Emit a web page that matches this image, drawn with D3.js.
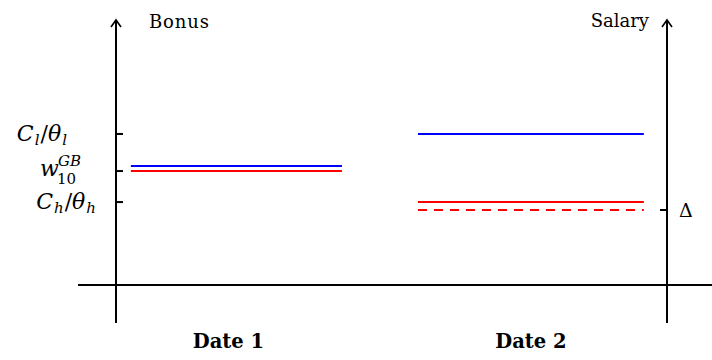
<!DOCTYPE html>
<html><head><meta charset="utf-8">
<script src="https://cdn.jsdelivr.net/npm/d3@7"></script>
<style>body{margin:0;background:#fff}svg{display:block}</style>
</head><body>
<script>
// Data (value units: y in chart units above baseline, x in 0-100 time units)
const dates = ["Date 1", "Date 2"];
const dateCenters = [20.4, 75.3];
const leftTicks = [
  {name: "Cl", value: 5.70},
  {name: "w", value: 4.30},
  {name: "Ch", value: 3.13}
];
const rightTicks = [{name: "Δ", value: 2.83}];
const segStart = [2.7, 54.8];
const segEnd = [41.0, 95.8];
const seriesNames = ["blue", "red", "redDashed"];
const blueValues = [4.49, 5.70];
const redValues = [4.30, 3.13];
const redDashedValues = [null, 2.83];
const axisTitles = ["Bonus", "Salary"];

const W = 712, H = 360;
const svg = d3.select("body").append("svg").attr("width", W).attr("height", H);
const x = d3.scaleLinear().domain([0, 100]).range([116, 667]);
const y = d3.scaleLinear().domain([0, 10]).range([285, 20]);

const serif = "'DejaVu Serif', serif";

// axes
const g = svg.append("g").attr("stroke", "#000").attr("stroke-width", 2).attr("fill", "none");
g.append("line").attr("x1", 78).attr("x2", W).attr("y1", y(0)).attr("y2", y(0));
[0, 100].forEach(v => {
  g.append("line").attr("x1", x(v)).attr("x2", x(v)).attr("y1", 323).attr("y2", y(10) + 1);
  g.append("path").attr("d", `M${x(v) - 5},${y(10) + 7} L${x(v)},${y(10)} L${x(v) + 5},${y(10) + 7}`)
    .attr("stroke-width", 1.6).attr("stroke-linejoin", "miter");
});

// ticks
leftTicks.forEach(t => {
  g.append("line").attr("x1", x(0)).attr("x2", x(0) + 7).attr("y1", y(t.value)).attr("y2", y(t.value));
});
rightTicks.forEach(t => {
  g.append("line").attr("x1", x(100) - 7).attr("x2", x(100)).attr("y1", y(t.value)).attr("y2", y(t.value));
});

// segments
const colors = {blue: "#0000ff", red: "#ff0000", redDashed: "#ff0000"};
const vals = {blue: blueValues, red: redValues, redDashed: redDashedValues};
seriesNames.forEach(s => {
  vals[s].forEach((v, i) => {
    if (v == null) return;
    svg.append("line").attr("x1", x(segStart[i])).attr("x2", x(segEnd[i]))
      .attr("y1", y(v)).attr("y2", y(v))
      .attr("stroke", colors[s]).attr("stroke-width", 2)
      .attr("stroke-dasharray", s === "redDashed" ? "9,7" : null);
  });
});

// axis titles
svg.append("text").attr("x", 149).attr("y", 28).attr("font-family", serif).attr("font-size", 18).attr("textLength", 60).text(axisTitles[0]);
svg.append("text").attr("x", 649).attr("y", 27).attr("text-anchor", "end").attr("font-family", serif).attr("font-size", 18).text(axisTitles[1]);

// date labels
dates.forEach((d, i) => {
  svg.append("text").attr("x", x(dateCenters[i])).attr("y", 348).attr("text-anchor", "middle")
    .attr("font-family", serif).attr("font-weight", "bold").attr("font-size", 19.5).text(d);
});

// math labels
function frac(t, sub, xr) {
  const tx = svg.append("text").attr("x", xr).attr("y", y(t.value) + 7).attr("text-anchor", "end")
    .attr("font-family", serif).attr("font-size", 22).attr("font-style", "italic");
  tx.append("tspan").text("C");
  tx.append("tspan").attr("font-size", 15).attr("dy", 4).attr("dx", 1).text(sub);
  tx.append("tspan").attr("dy", -4).attr("dx", 1).attr("font-style", "normal").text("/");
  tx.append("tspan").text("θ");
  tx.append("tspan").attr("font-size", 15).attr("dy", 4).attr("dx", 1).text(sub);
  return tx;
}
frac(leftTicks[0], "l", 67);
frac(leftTicks[2], "h", 96);
// w^{GB}_{10}
const wy = y(leftTicks[1].value) + 5;
svg.append("text").attr("x", 40).attr("y", wy).attr("font-family", serif).attr("font-size", 22)
  .attr("font-style", "italic").text("w");
svg.append("text").attr("x", 58).attr("y", wy - 10).attr("font-family", serif).attr("font-size", 15)
  .attr("font-style", "italic").text("GB");
svg.append("text").attr("x", 57).attr("y", wy + 8).attr("font-family", serif).attr("font-size", 15).text("10");

// Delta
svg.append("text").attr("x", 679).attr("y", y(rightTicks[0].value) + 7).attr("font-family", serif)
  .attr("font-size", 19).text(rightTicks[0].name);
</script>
</body></html>
